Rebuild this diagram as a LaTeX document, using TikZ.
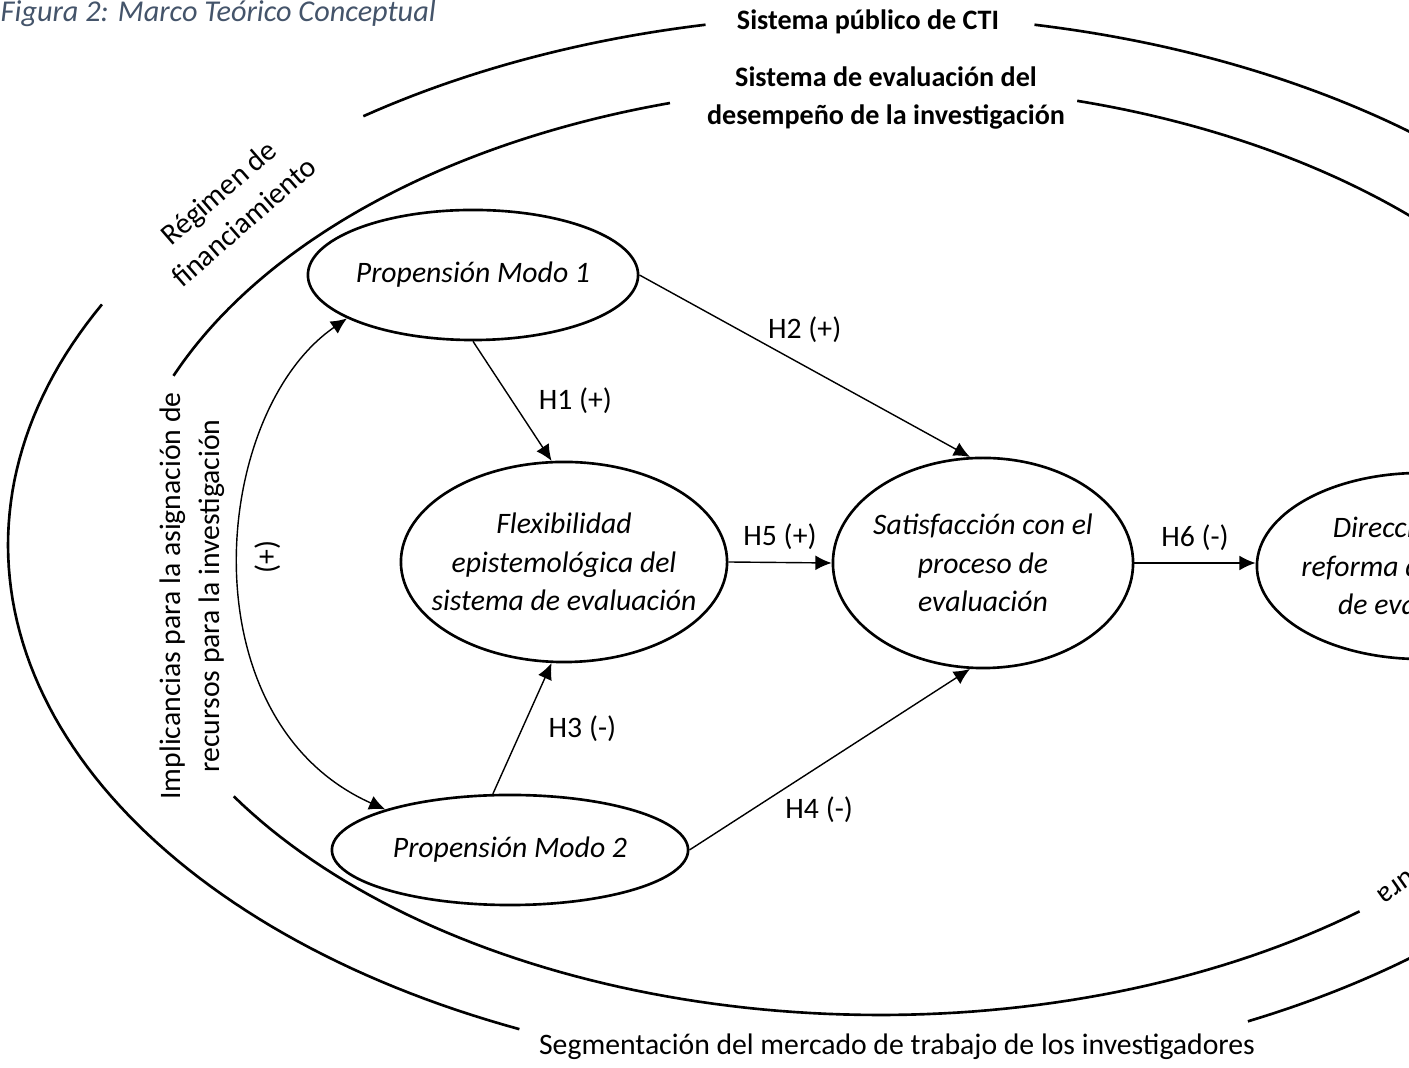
\documentclass[tikz,border=0pt]{standalone}
\usepackage{fontspec}
\setmainfont{Carlito}
\usetikzlibrary{shapes.geometric,arrows.meta}
\definecolor{captionblue}{HTML}{44546A}

\begin{document}
\begin{tikzpicture}[x=0.01cm,y=-0.01cm,
		font=\fontsize{8.45}{11}\selectfont,
		>={Latex[length=4.6pt,width=4.2pt]},
		arc/.style={line width=0.75pt},
		var/.style={draw,ellipse,line width=0.75pt,inner sep=0pt},
		vartxt/.style={align=center,font=\fontsize{8.45}{11}\selectfont\itshape},
		ringtxt/.style={align=center,font=\fontsize{8}{11}\selectfont\bfseries},
		link/.style={->,line width=0.4pt}]
		\useasboundingbox (0,0) rectangle (1409,1068);
		\clip (0,0) rectangle (1409,1068);
		
		\node[anchor=west,inner sep=0pt,text=captionblue,font=\fontsize{8.6}{11}\selectfont\itshape] (fig) at (0,14) {Figura 2: Marco Teórico Conceptual};
		
		\foreach \a/\b in {202/254,285/335,51/148}
			\draw[arc,domain=\a:\b,samples=80] plot ({880+762*cos(\x)},{550+465*sin(\x)});
		\foreach \a/\b in {234/259,281/345,114/207,15/64}
			\draw[arc,domain=\a:\b,samples=80] plot ({870+862*cos(\x)},{545+530*sin(\x)});
		
		\node[ringtxt] (cti) at (868,22) {Sistema público de CTI};
		\node[ringtxt] (sed) at (886,98) {Sistema de evaluación del\\desempeño de la investigación};
		\node[align=center,rotate=41] (reg) at (231,207) {Régimen de\\financiamiento};
		\node[align=center,rotate=90] (imp) at (192,596) {Implicancias para la asignación de\\recursos para la investigación};
		\node (seg) at (897,1047) {Segmentación del mercado de trabajo de los investigadores};
		\node[rotate=215] (ura) at (1396,887) {ura};
		
		\node[var,minimum width=3.3cm,minimum height=1.3cm] (m1) at (473,275) {};
		\node[vartxt] (m1txt) at (m1) {Propensión Modo 1};
		\node[var,minimum width=3.26cm,minimum height=2cm] (flex) at (564,562) {};
		\node[vartxt] (flextxt) at (flex) {Flexibilidad\\epistemológica del\\sistema de evaluación};
		\node[var,minimum width=3cm,minimum height=2.1cm] (sat) at (983,563) {};
		\node[vartxt] (sattxt) at (sat) {Satisfacción con el\\proceso de\\evaluación};
		\node[var,minimum width=3.56cm,minimum height=1.1cm] (m2) at (510,850) {};
		\node[vartxt] (m2txt) at (m2) {Propensión Modo 2};
		\node[var,minimum width=3.28cm,minimum height=1.86cm] (dir) at (1421,566) {};
		\node[vartxt] (dirtxt) at (dir) {Dirección de la\\reforma del sistema\\de evaluación};
		
		\draw[link] (m1.south) -- (flex.97) node[midway,right=4pt] (h1) {H1 (+)};
		\draw[link] (m1.east) -- (sat.97) node[midway,above=3pt] (h2) {H2 (+)};
		\draw[link] (m2.107) -- (flex.263) node[midway,right=4pt] (h3) {H3 (-)};
		\draw[link] (m2.east) -- (sat.263) node[midway,below=7pt,xshift=-3pt] (h4) {H4 (-)};
		\draw[link] (flex.east) -- (sat.west) node[midway,above] (h5) {H5 (+)};
		\draw[link] (sat.east) -- (sat.east -| dir.west) node[midway,above] (h6) {H6 (-)};
		\draw[<->,line width=0.4pt] (m1.199) .. controls (210,413) and (185,720) .. (m2.162);
		\node[rotate=90] (plus) at (268,557) {(+)};
\end{tikzpicture}
\end{document}
